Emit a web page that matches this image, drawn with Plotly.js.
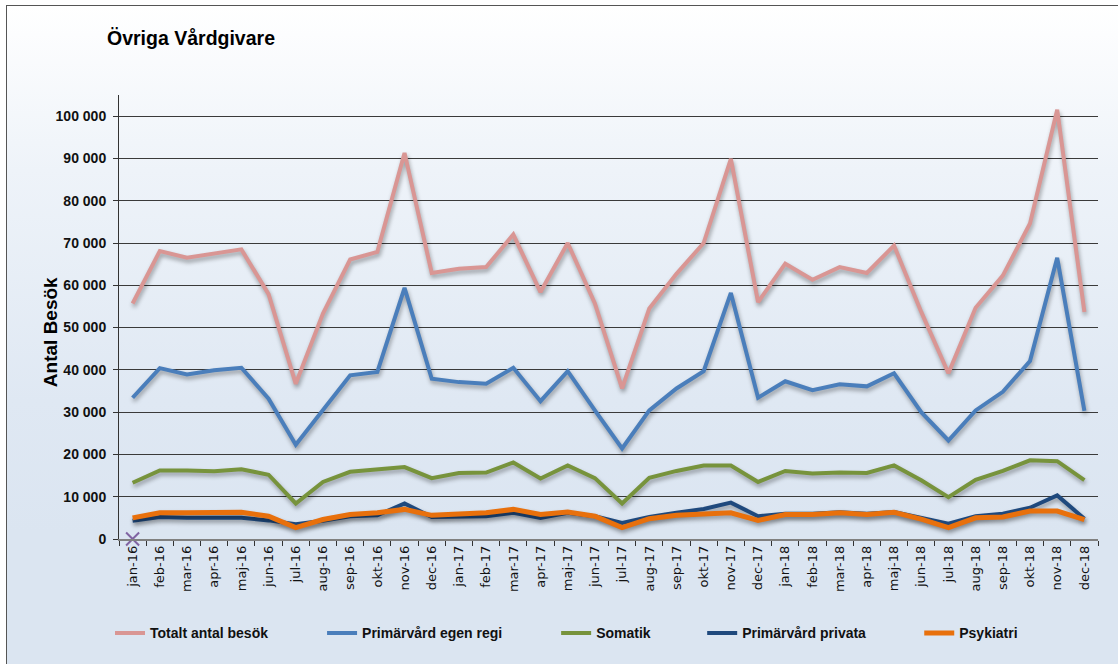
<!DOCTYPE html>
<html>
<head>
<meta charset="utf-8">
<script src="https://cdn.plot.ly/plotly-3.0.1.min.js"></script>
<style>
  html, body { margin: 0; padding: 0; background: #ffffff; }
  #frame {
    position: absolute; left: 6px; top: 5px; width: 1112px; height: 659px;
    border-left: 1.5px solid #555; border-top: 1.5px solid #555;
    box-sizing: border-box;
    background: linear-gradient(to bottom, #ffffff 0%, #eef3f9 25%, #dfe8f3 60%, #dbe5f1 80%, #dbe5f1 100%);
  }
  #chart { position: absolute; left: 0; top: 0; width: 1118px; height: 664px; }
  .scatterlayer .js-line { filter: drop-shadow(1px 3px 2px rgba(0,0,0,0.35)); }
</style>
</head>
<body>
<div id="frame"></div>
<div id="chart"></div>
<script>
const months = ["jan-16","feb-16","mar-16","apr-16","maj-16","jun-16","jul-16","aug-16","sep-16","okt-16","nov-16","dec-16",
                "jan-17","feb-17","mar-17","apr-17","maj-17","jun-17","jul-17","aug-17","sep-17","okt-17","nov-17","dec-17",
                "jan-18","feb-18","mar-18","apr-18","maj-18","jun-18","jul-18","aug-18","sep-18","okt-18","nov-18","dec-18"];

const totalt = [55700, 68100, 66500, 67500, 68500, 57900, 36700, 53300, 66100, 67900, 91300, 62900,
                63900, 64300, 72000, 58400, 70000, 55700, 35600, 54500, 62700, 70000, 89900, 56000,
                65100, 61300, 64300, 62900, 69400, 53700, 39200, 54700, 62300, 74600, 101500, 53700];

const egenRegi = [33400, 40400, 38900, 39900, 40500, 33200, 22300, 30400, 38700, 39500, 59400, 37900,
                  37100, 36700, 40500, 32600, 39700, 30400, 21400, 30400, 35600, 39700, 58200, 33400,
                  37300, 35200, 36600, 36100, 39200, 30000, 23300, 30400, 34800, 42100, 66500, 30300];

const somatik = [13300, 16200, 16200, 16000, 16500, 15200, 8400, 13500, 15900, 16400, 17000, 14400,
                 15600, 15700, 18100, 14300, 17400, 14400, 8400, 14500, 16100, 17400, 17400, 13500,
                 16100, 15500, 15700, 15600, 17400, 13900, 9900, 14000, 16100, 18600, 18400, 13900];

const privata = [4300, 5200, 5000, 5100, 5000, 4400, 3500, 4300, 5400, 5600, 8400, 5200,
                 5200, 5400, 6200, 5000, 6200, 5400, 3800, 5200, 6200, 7100, 8600, 5400,
                 6000, 6000, 6300, 6000, 6400, 5000, 3600, 5400, 6000, 7400, 10300, 4800];

const psykiatri = [5000, 6200, 6200, 6200, 6300, 5400, 2700, 4600, 5800, 6200, 7000, 5600,
                   5800, 6200, 7000, 5800, 6400, 5400, 2700, 4800, 5600, 6000, 6200, 4400,
                   5800, 5800, 6200, 5800, 6300, 4700, 2700, 5000, 5200, 6600, 6600, 4600];

const markerCat = ["jan-16"];
const markerVal = [0];

const seriesNames = ["Totalt antal besök", "Primärvård egen regi", "Somatik", "Primärvård privata", "Psykiatri"];
const seriesData = [totalt, egenRegi, somatik, privata, psykiatri];
const seriesColors = ["#d99694", "#4a7ebb", "#77933c", "#1f497d", "#e8700c"];
const seriesWidths = [4, 4, 4, 4, 5];
const legendIds = ["legend", "legend2", "legend3", "legend4", "legend5"];

const traces = seriesData.map((vals, i) => ({
  type: "scatter", mode: "lines",
  x: months, y: vals, name: seriesNames[i],
  line: { color: seriesColors[i], width: seriesWidths[i] },
  legend: legendIds[i],
  hoverinfo: "x+y+name"
}));
traces.push({
  type: "scatter", mode: "markers", x: markerCat, y: markerVal,
  marker: { symbol: "x-thin", size: 13, line: { color: "#8064a2", width: 2 } },
  showlegend: false, cliponaxis: false
});

const plotL = 119, plotR = 1097.7, plotW = plotR - plotL, plotB = 538.7, plotT = 95, plotH = plotB - plotT;
const legendStarts = [110, 322, 556, 702, 919];
const legendFont = { family: "Liberation Sans, Arial, sans-serif", size: 14, color: "#111", weight: "bold" };
function legendAt(px) {
  return {
    orientation: "h", x: (px - plotL) / plotW, xanchor: "left",
    y: -(633 - plotB) / plotH, yanchor: "middle",
    bgcolor: "rgba(0,0,0,0)", borderwidth: 0, font: legendFont
  };
}

const layout = {
  width: 1118, height: 664,
  margin: { l: plotL, r: 1118 - plotR, t: plotT, b: 664 - plotB, pad: 0 },
  paper_bgcolor: "rgba(0,0,0,0)", plot_bgcolor: "rgba(0,0,0,0)",
  separators: ", ",
  showlegend: true,
  title: {
    text: "Övriga Vårdgivare",
    font: { family: "Liberation Sans, Arial, sans-serif", size: 19.5, color: "#000", weight: "bold" },
    xref: "container", yref: "container", x: 107 / 1118, xanchor: "left", y: 1 - 38 / 664, yanchor: "middle"
  },
  xaxis: {
    type: "category", categoryorder: "array", categoryarray: months,
    range: [-0.5, 35.5], autorange: false,
    tickangle: -90, tickson: "boundaries",
    ticks: "outside", ticklen: 5, tickwidth: 1, tickcolor: "#333",
    tickfont: { family: "DejaVu Sans, Verdana, sans-serif", size: 13, color: "#111" },
    showline: true, linecolor: "#808080", linewidth: 1.5,
    showgrid: false, zeroline: false, fixedrange: true
  },
  yaxis: {
    range: [0, 105000], autorange: false,
    tickvals: [0, 10000, 20000, 30000, 40000, 50000, 60000, 70000, 80000, 90000, 100000],
    tickformat: ",d",
    ticks: "outside", ticklen: 5, tickwidth: 1, tickcolor: "#333",
    ticklabelstandoff: 4,
    tickfont: { family: "Liberation Sans, Arial, sans-serif", size: 14, color: "#111", weight: "bold" },
    showline: true, linecolor: "#333", linewidth: 1,
    showgrid: true, gridcolor: "#3a3a3a", gridwidth: 1,
    zeroline: false, fixedrange: true
  },
  annotations: [{
    text: "Antal Besök", textangle: -90,
    xref: "paper", yref: "paper",
    x: (50 - plotL) / plotW, xanchor: "center",
    y: (plotB - 332) / plotH, yanchor: "middle",
    showarrow: false,
    font: { family: "Liberation Sans, Arial, sans-serif", size: 19, color: "#000", weight: "bold" }
  }]
};
legendIds.forEach((id, i) => { layout[id] = legendAt(legendStarts[i]); });

Plotly.newPlot("chart", traces, layout, { displayModeBar: false, staticPlot: true });
</script>
</body>
</html>
